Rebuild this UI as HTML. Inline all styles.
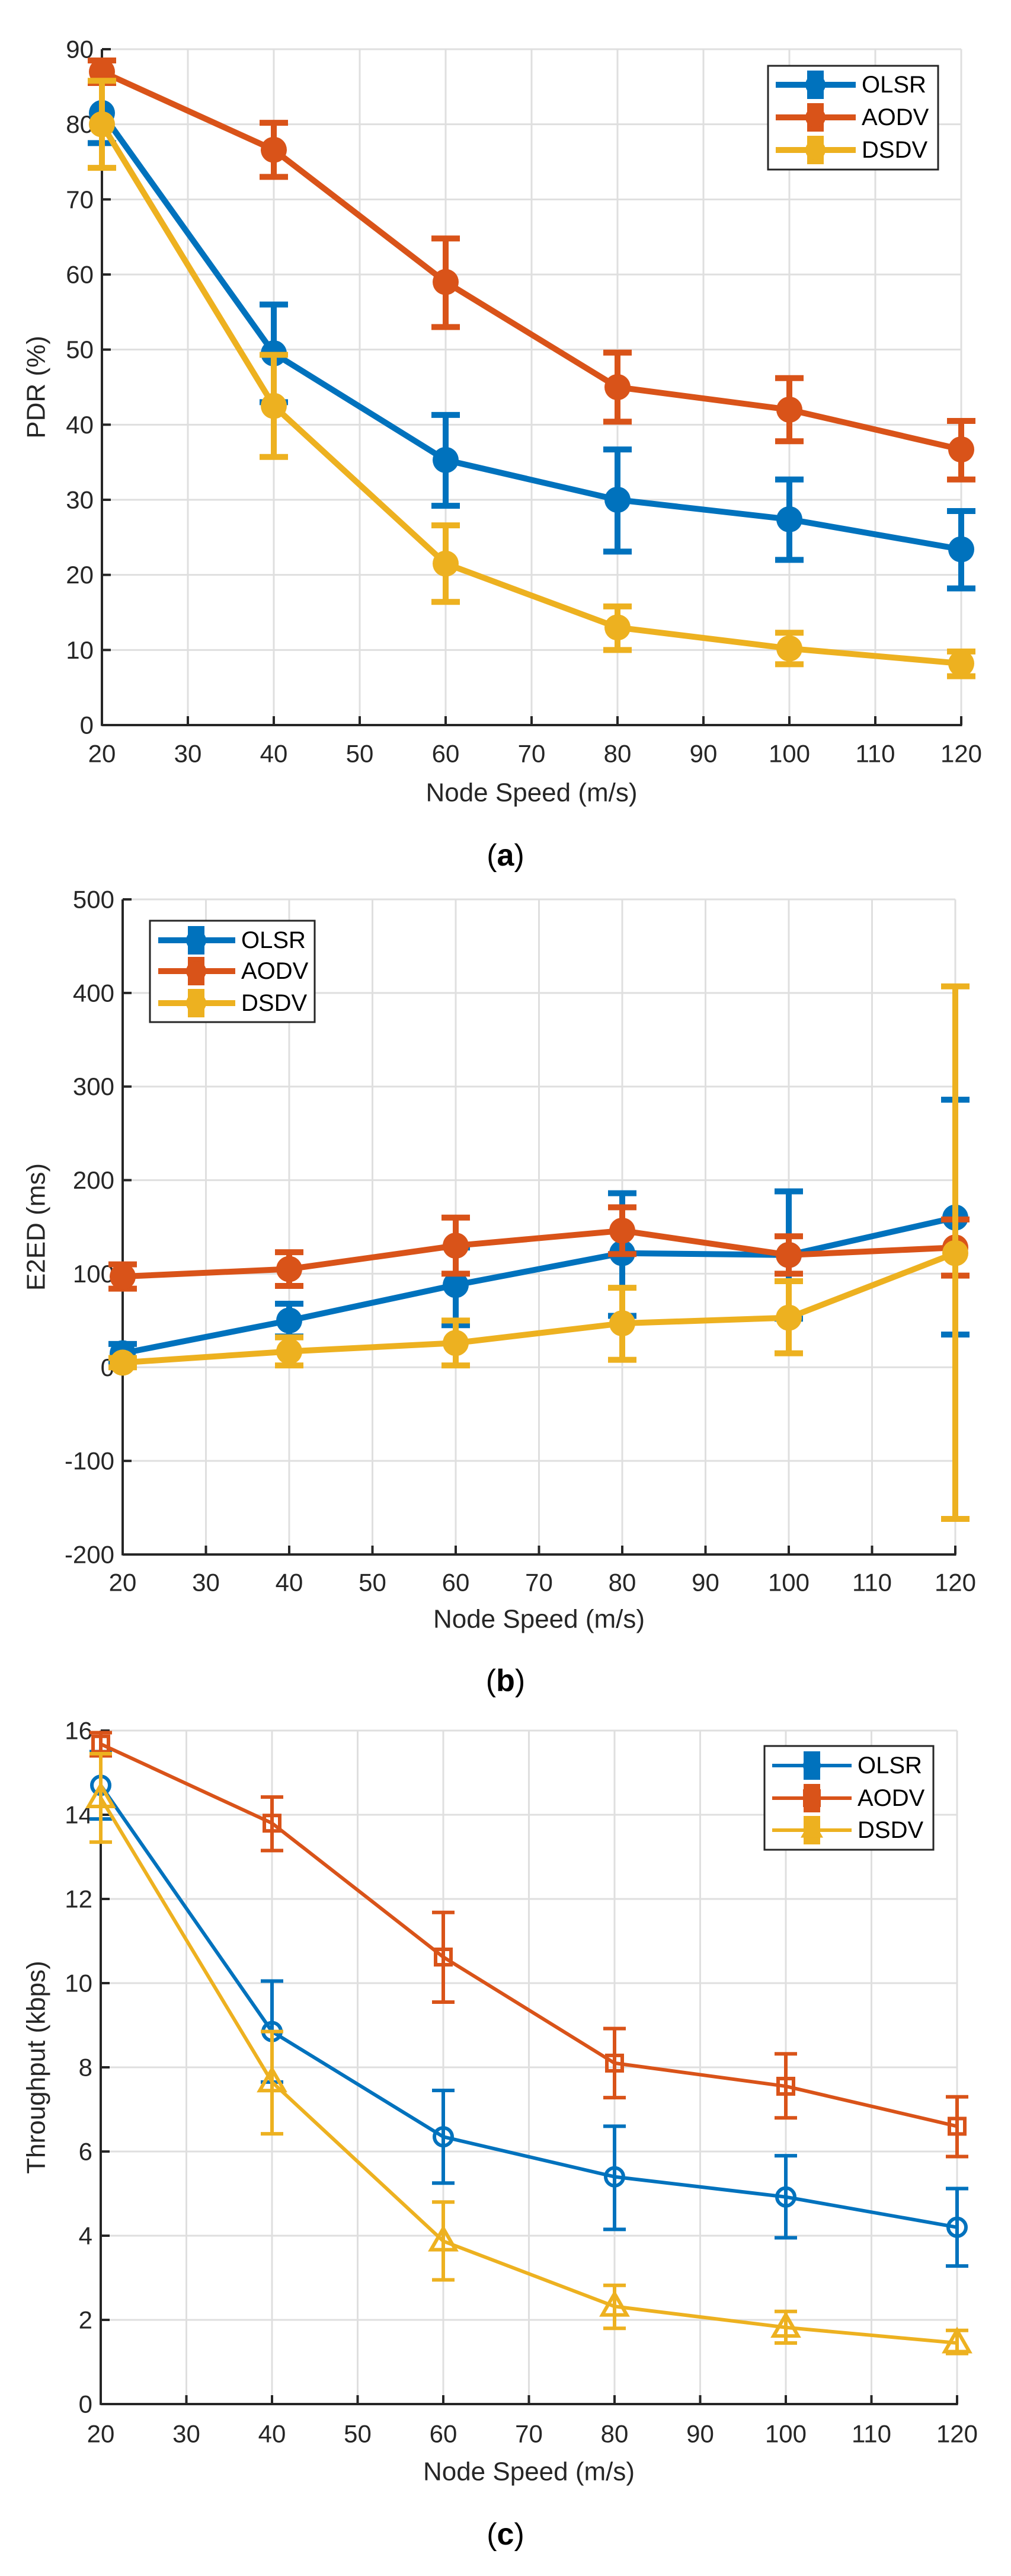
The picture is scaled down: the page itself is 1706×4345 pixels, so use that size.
<!DOCTYPE html>
<html><head><meta charset="utf-8"><style>
html,body{margin:0;padding:0;background:#fff;}
svg{display:block;}
text{font-family:"Liberation Sans",Arial,sans-serif;}
</style></head><body>
<svg id="fig" width="1706" height="4345" viewBox="0 0 1706 4345" xmlns="http://www.w3.org/2000/svg"></svg>
<script>
const xCategories = [20, 40, 60, 80, 100, 120];
const xTicks = [20,30,40,50,60,70,80,90,100,110,120];
const seriesNames = ["OLSR","AODV","DSDV"];

// (a) PDR
const pdrOlsr = [81.5, 49.5, 35.3, 30.0, 27.4, 23.4];
const pdrOlsrLo = [77.5, 43.0, 29.2, 23.1, 22.0, 18.2];
const pdrOlsrHi = [85.5, 56.0, 41.3, 36.7, 32.7, 28.5];
const pdrAodv = [87.0, 76.6, 59.0, 45.0, 42.0, 36.7];
const pdrAodvLo = [85.5, 73.0, 53.0, 40.4, 37.8, 32.7];
const pdrAodvHi = [88.5, 80.2, 64.8, 49.6, 46.2, 40.5];
const pdrDsdv = [80.0, 42.5, 21.5, 13.0, 10.2, 8.2];
const pdrDsdvLo = [74.2, 35.7, 16.4, 10.0, 8.1, 6.5];
const pdrDsdvHi = [85.8, 49.3, 26.6, 15.8, 12.3, 9.8];
const pdrTicks = [0,10,20,30,40,50,60,70,80,90];

// (b) E2ED
const e2eOlsr = [15, 50, 88, 122, 120, 160];
const e2eOlsrLo = [5, 33, 45, 55, 52, 35];
const e2eOlsrHi = [25, 68, 128, 186, 188, 286];
const e2eAodv = [97, 105, 130, 146, 120, 128];
const e2eAodvLo = [84, 87, 100, 121, 100, 98];
const e2eAodvHi = [110, 123, 160, 171, 140, 158];
const e2eDsdv = [5, 17, 26, 47, 53, 122];
const e2eDsdvLo = [0, 2, 2, 8, 15, -162];
const e2eDsdvHi = [10, 32, 50, 85, 92, 407];
const e2eTicks = [-200,-100,0,100,200,300,400,500];

// (c) Throughput
const thrOlsr = [14.7, 8.85, 6.35, 5.4, 4.92, 4.2];
const thrOlsrLo = [13.9, 7.65, 5.25, 4.15, 3.95, 3.28];
const thrOlsrHi = [15.5, 10.05, 7.45, 6.6, 5.9, 5.12];
const thrAodv = [15.68, 13.8, 10.62, 8.1, 7.55, 6.6];
const thrAodvLo = [15.4, 13.15, 9.55, 7.28, 6.8, 5.88];
const thrAodvHi = [15.95, 14.42, 11.68, 8.92, 8.32, 7.3];
const thrDsdv = [14.4, 7.65, 3.87, 2.32, 1.82, 1.45];
const thrDsdvLo = [13.35, 6.42, 2.95, 1.8, 1.45, 1.2];
const thrDsdvHi = [15.45, 8.85, 4.8, 2.82, 2.2, 1.75];
const thrTicks = [0,2,4,6,8,10,12,14,16];

const COLORS = ["#0072BD","#D95319","#EDB120"];
const NS = "http://www.w3.org/2000/svg";
const svg = document.getElementById("fig");
function mk(tag, attrs, parent){
  const e = document.createElementNS(NS, tag);
  for (const k in attrs) e.setAttribute(k, attrs[k]);
  (parent||svg).appendChild(e);
  return e;
}

function marker(g, kind, cx, cy, color, s){
  let m;
  if (kind === "dot") {
    m = mk("circle",{cx:cx,cy:cy,r:s,fill:color},g);
  } else if (kind === "circle") {
    m = mk("circle",{cx:cx,cy:cy,r:s,fill:"none",stroke:color,"stroke-width":6},g);
  } else if (kind === "square") {
    m = mk("rect",{x:cx-s,y:cy-s,width:2*s,height:2*s,fill:"none",stroke:color,"stroke-width":6},g);
  } else {
    m = mk("polygon",{points:`${cx},${cy-s*1.2} ${cx+s*1.15},${cy+s*0.8} ${cx-s*1.15},${cy+s*0.8}`,fill:"none",stroke:color,"stroke-width":6},g);
  }
  return m;
}

function drawChart(cfg){
  const g = mk("g",{});
  
  
  const {L,R,T,B,ymin,ymax} = cfg;
  const xs = v => L + (v-20)/(120-20)*(R-L);
  const ys = v => B - (v-ymin)/(ymax-ymin)*(B-T);
  // grid
  const grid = mk("g",{},g);
  
  
  xTicks.forEach(t=>{ if(t!==20) mk("line",{x1:xs(t),x2:xs(t),y1:T,y2:B,stroke:"#dfdfdf","stroke-width":3},grid); });
  cfg.yTicks.forEach(t=>{ if(t!==ymin) mk("line",{x1:L,x2:R,y1:ys(t),y2:ys(t),stroke:"#dfdfdf","stroke-width":3},grid); });
  // axes
  const ax = mk("g",{},g);
  
  
  mk("line",{x1:L,x2:R+1.5,y1:B,y2:B,stroke:"#262626","stroke-width":4},ax);
  mk("line",{x1:L,x2:L,y1:T,y2:B+1.5,stroke:"#262626","stroke-width":4},ax);
  xTicks.forEach(t=>{
    mk("line",{x1:xs(t),x2:xs(t),y1:B,y2:B-15,stroke:"#262626","stroke-width":4},ax);
    const tx = mk("text",{x:xs(t),y:cfg.xTickY,"text-anchor":"middle","font-size":42,fill:"#262626","dominant-baseline":"central"},ax);
    tx.textContent = t;
    
    
  });
  cfg.yTicks.forEach(t=>{
    mk("line",{x1:L,x2:L+15,y1:ys(t),y2:ys(t),stroke:"#262626","stroke-width":4},ax);
    const tx = mk("text",{x:L-14,y:ys(t),"text-anchor":"end","font-size":42,fill:"#262626","dominant-baseline":"central"},ax);
    tx.textContent = t;
    
    
  });
  const xl = mk("text",{x:(L+R)/2,y:cfg.xLabelY,"text-anchor":"middle","font-size":44,fill:"#262626","dominant-baseline":"central"},g);
  xl.textContent = "Node Speed (m/s)";
  
  
  const yl = mk("text",{x:0,y:0,"text-anchor":"middle","font-size":44,fill:"#262626","dominant-baseline":"central",transform:`translate(61,${(T+B)/2}) rotate(-90)`},g);
  yl.textContent = cfg.yLabel;
  
  
  // series
  cfg.series.forEach((s,i)=>{
    const sg = mk("g",{},g);
    
    
    const col = COLORS[i];
    const pts = xCategories.map((x,j)=>`${xs(x)},${ys(s.v[j])}`).join(" ");
    mk("polyline",{points:pts,fill:"none",stroke:col,"stroke-width":cfg.lw,"stroke-linejoin":"round"},sg);
    xCategories.forEach((x,j)=>{
      const cx = xs(x), lo = ys(s.lo[j]), hi = ys(s.hi[j]);
      const eb = mk("g",{},sg);
      
      
      mk("line",{x1:cx,x2:cx,y1:lo,y2:hi,stroke:col,"stroke-width":cfg.lw},eb);
      mk("line",{x1:cx-cfg.cap,x2:cx+cfg.cap,y1:lo,y2:lo,stroke:col,"stroke-width":cfg.lw},eb);
      mk("line",{x1:cx-cfg.cap,x2:cx+cfg.cap,y1:hi,y2:hi,stroke:col,"stroke-width":cfg.lw},eb);
      const m = marker(sg, cfg.markers[i], cx, ys(s.v[j]), col, cfg.ms[i]);
      
      
    });
  });
  // legend
  const lg = mk("g",{},g);
  
  
  const Lg = cfg.legend;
  mk("rect",{x:Lg.x1,y:Lg.y1,width:Lg.x2-Lg.x1,height:Lg.y2-Lg.y1,fill:"#fff",stroke:"#262626","stroke-width":3},lg);
  seriesNames.forEach((n,i)=>{
    const ry = Lg.rows[i], col = COLORS[i];
    const le = mk("g",{},lg);
    
    
    mk("line",{x1:Lg.lx1,x2:Lg.lx2,y1:ry,y2:ry,stroke:col,"stroke-width":cfg.lw},le);
    mk("line",{x1:Lg.mx,x2:Lg.mx,y1:ry-22,y2:ry+22,stroke:col,"stroke-width":cfg.lw===10?28:28},le);
    mk("rect",{x:Lg.mx-14,y:ry-24,width:28,height:10,fill:col},le);
    mk("rect",{x:Lg.mx-14,y:ry+14,width:28,height:10,fill:col},le);
    marker(le, cfg.markers[i], Lg.mx, ry, col, cfg.markers[i]==="dot"?17:12);
    const t = mk("text",{x:Lg.tx,y:ry,"font-size":40,fill:"#000","dominant-baseline":"central"},le);
    t.textContent = n;
  });
  const cap = mk("text",{x:853,y:cfg.capY,"text-anchor":"middle","font-size":52,fill:"#000","dominant-baseline":"central","font-family":"Liberation Serif, serif"},g);
  cap.innerHTML = '(<tspan font-weight="bold">' + cfg.capLetter + '</tspan>)';
  
  
}

drawChart({name:"chart-pdr",L:172,R:1622,T:83,B:1223,ymin:0,ymax:90,yTicks:pdrTicks,
  yLabel:"PDR (%)",xTickY:1271,xLabelY:1337,capY:1443,capLetter:"a",lw:10,cap:24,
  markers:["dot","dot","dot"],ms:[22,22,22],
  series:[{v:pdrOlsr,lo:pdrOlsrLo,hi:pdrOlsrHi},{v:pdrAodv,lo:pdrAodvLo,hi:pdrAodvHi},{v:pdrDsdv,lo:pdrDsdvLo,hi:pdrDsdvHi}],
  legend:{x1:1296,x2:1583,y1:111,y2:286,rows:[143,198,253],lx1:1309,lx2:1444,mx:1376,tx:1454}});

drawChart({name:"chart-e2ed",L:207,R:1612,T:1517,B:2622,ymin:-200,ymax:500,yTicks:e2eTicks,
  yLabel:"E2ED (ms)",xTickY:2669,xLabelY:2731,capY:2835,capLetter:"b",lw:10,cap:24,
  markers:["dot","dot","dot"],ms:[22,22,22],
  series:[{v:e2eOlsr,lo:e2eOlsrLo,hi:e2eOlsrHi},{v:e2eAodv,lo:e2eAodvLo,hi:e2eAodvHi},{v:e2eDsdv,lo:e2eDsdvLo,hi:e2eDsdvHi}],
  legend:{x1:253,x2:531,y1:1553,y2:1724,rows:[1586,1638,1692],lx1:267,lx2:397,mx:331,tx:407}});

drawChart({name:"chart-throughput",L:170,R:1615,T:2919,B:4055,ymin:0,ymax:16,yTicks:thrTicks,
  yLabel:"Throughput (kbps)",xTickY:4105,xLabelY:4169,capY:4275,capLetter:"c",lw:6,cap:19,
  markers:["circle","square","triangle"],ms:[15,13,18],
  series:[{v:thrOlsr,lo:thrOlsrLo,hi:thrOlsrHi},{v:thrAodv,lo:thrAodvLo,hi:thrAodvHi},{v:thrDsdv,lo:thrDsdvLo,hi:thrDsdvHi}],
  legend:{x1:1290,x2:1575,y1:2945,y2:3120,rows:[2978,3033,3087],lx1:1303,lx2:1437,mx:1370,tx:1447}});
</script>
</body></html>
